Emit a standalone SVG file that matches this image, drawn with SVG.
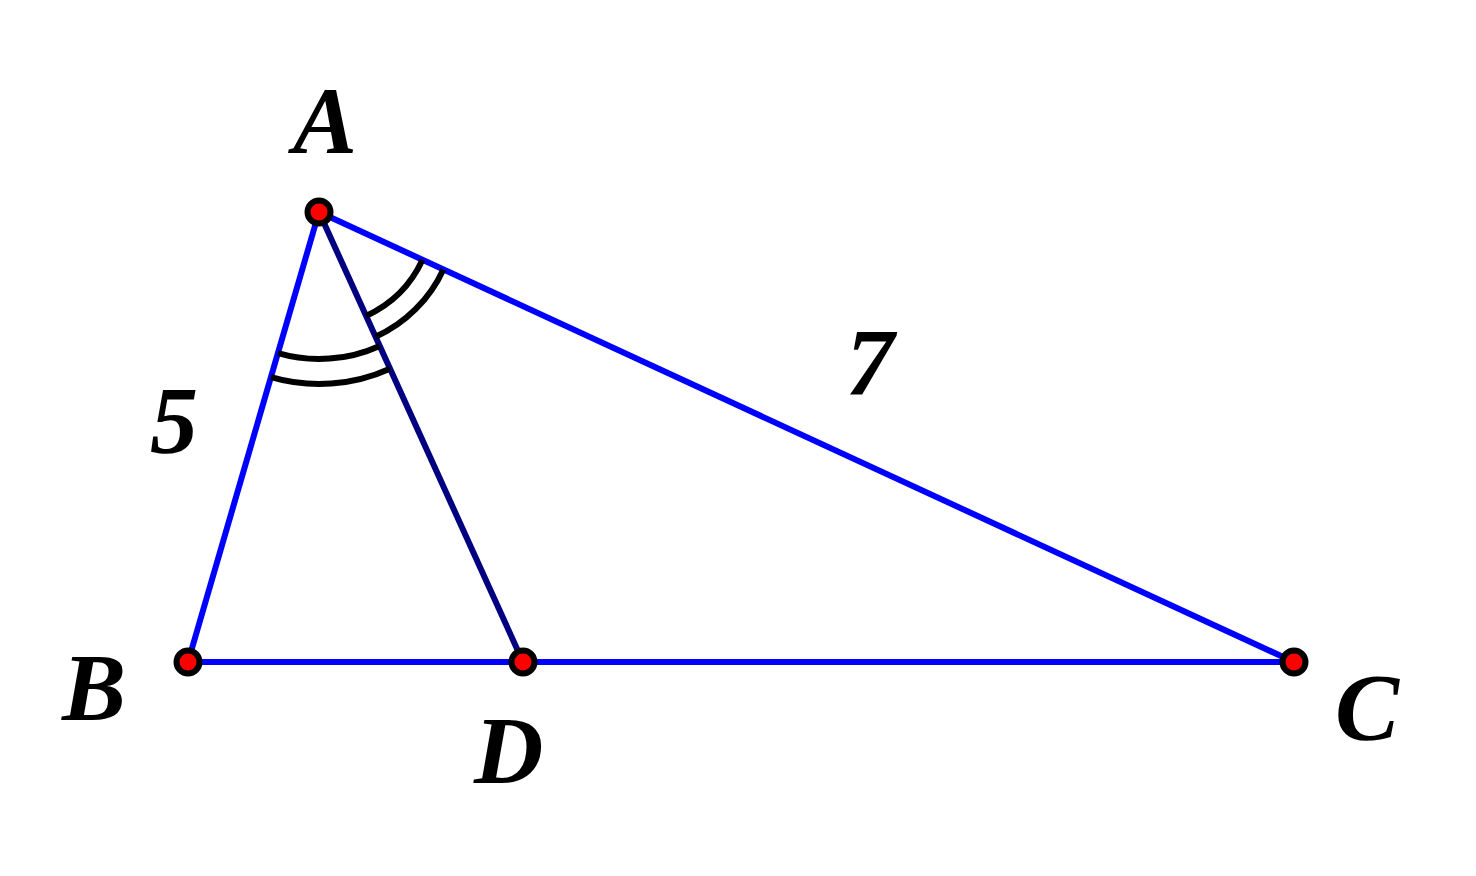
<svg xmlns="http://www.w3.org/2000/svg" width="1476" height="876" viewBox="0 0 1476 876">
<style>
.side{stroke:#0000ff;stroke-width:6;fill:none}
.cev{stroke:#000080;stroke-width:6;fill:none}
.arc{stroke:#000;stroke-width:6;fill:none}
.pt{fill:#ff0000;stroke:#000;stroke-width:6}
.lbl{font-weight:bold;font-style:italic;font-size:96px;fill:#000}
</style>
<rect width="1476" height="876" fill="#fff"/>
<g id="connectors">
<line class="side" x1="319" y1="212" x2="188" y2="662"/>
<line class="side" x1="188" y1="662" x2="1294" y2="662"/>
<line class="side" x1="319" y1="212" x2="1294" y2="662"/>
<line class="cev" x1="319" y1="212" x2="523" y2="662"/>
</g>
<g id="angle-marks">
<path class="arc" d="M379.7,345.9 A147,147 0 0 1 278,353.1"/>
<path class="arc" d="M390,368.7 A172,172 0 0 1 271,377.1"/>
<path class="arc" d="M422.5,259.8 A114,114 0 0 1 366.1,315.9"/>
<path class="arc" d="M443.4,269.4 A137,137 0 0 1 375.6,336.8"/>
</g>
<g id="node-A"><circle class="pt" cx="319" cy="212" r="11.5"/><text class="lbl" font-family="Liberation Serif, serif" x="293" y="153">A</text></g>
<g id="node-B"><circle class="pt" cx="188" cy="662" r="11.5"/><text class="lbl" font-family="Liberation Serif, serif" x="62" y="720">B</text></g>
<g id="node-D"><circle class="pt" cx="523" cy="662" r="11.5"/><text class="lbl" font-family="Liberation Serif, serif" x="474" y="783">D</text></g>
<g id="node-C"><circle class="pt" cx="1294" cy="662" r="11.5"/><text class="lbl" font-family="Liberation Serif, serif" x="1335" y="740">C</text></g>
<g id="labels">
<text class="lbl" font-family="Liberation Serif, serif" x="150" y="453">5</text>
<text class="lbl" font-family="Liberation Serif, serif" x="846" y="395">7</text>
</g>
</svg>
